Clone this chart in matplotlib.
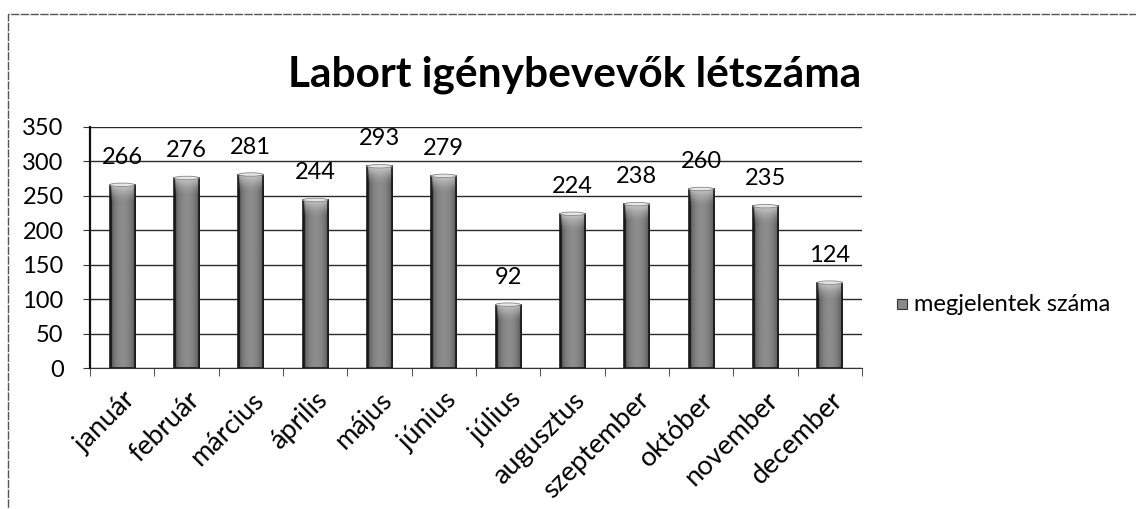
import numpy as np
import matplotlib.pyplot as plt
from matplotlib.patches import Rectangle, Ellipse

plt.rcParams['font.family'] = ['Lato', 'DejaVu Sans']

months = ['január', 'február', 'március', 'április', 'május', 'június',
          'július', 'augusztus', 'szeptember', 'október', 'november', 'december']
values = [266, 276, 281, 244, 293, 279, 92, 224, 238, 260, 235, 124]
yticks = [0, 50, 100, 150, 200, 250, 300, 350]
series_name = 'megjelentek száma'
title = 'Labort igénybevevők létszáma'

fig = plt.figure(figsize=(11.36, 5.09), dpi=100)
ax = fig.add_axes([0.0792, 0.277, 0.6796, 0.4735])

x = np.arange(len(months))
w = 0.39

# horizontal shading for the cylinder look
gx = np.linspace(0, 1, 40)
base = 0.22 + 0.33 * np.sin(np.pi * gx) ** 0.5
base[:3] = 0.08
base[-2:] = 0.15

bars = ax.bar(x, values, width=w, color='none', zorder=3)
for b in bars:
    x0, h = b.get_x(), b.get_height()
    gy = np.linspace(0, h, 120)
    fade = np.clip((gy - (h - 25)) / 25, 0, 1) ** 1.5
    img = base[None, :] + (0.9 - base[None, :]) * 0.7 * fade[:, None]
    ax.imshow(img, cmap='gray', vmin=0, vmax=1, aspect='auto', origin='lower',
              extent=[x0, x0 + w, 0, h], zorder=3, interpolation='bilinear')
    ax.add_patch(Rectangle((x0, 0), w, h, fill=False, ec='#1a1a1a', lw=1.2, zorder=4))
    ax.add_patch(Ellipse((x0 + w / 2, h), w, 5, fc='#e6e6e6', ec='#888888', lw=0.6, zorder=5))

for xi, v in zip(x, values):
    ax.annotate(str(v), (xi, v), xytext=(0, 15), textcoords='offset points',
                ha='center', va='baseline', fontsize=17, zorder=6)

ax.set_xlim(-0.5, len(months) - 0.5)
ax.set_ylim(0, 350)
ax.set_yticks(yticks)
ax.tick_params(axis='y', labelsize=17, length=5, pad=14, color='#333333')
ax.set_xticks(x)
ax.set_xticklabels(months, rotation=45, ha='right', rotation_mode='anchor', fontsize=19.5)
ax.tick_params(axis='x', length=0, pad=14)
ax.set_xticks(np.arange(len(months) + 1) - 0.5, minor=True)
ax.tick_params(axis='x', which='minor', length=6, color='#333333')
ax.grid(axis='y', color='#2a2a2a', lw=1, zorder=0)
for s in ['top', 'right']:
    ax.spines[s].set_visible(False)
ax.spines['left'].set_color('#111111')
ax.spines['bottom'].set_color('#333333')
ax.spines['left'].set_linewidth(1.6)

fig.text(0.506, 0.853, title, ha='center', va='center', fontsize=30.5, fontweight='bold')

# legend
fig.patches.append(Rectangle((0.79, 0.392), 0.008, 0.02, transform=fig.transFigure,
                             fc='#8a8a8a', ec='#333333', lw=0.8))
fig.text(0.805, 0.401, series_name, ha='left', va='center', fontsize=17)

# chart frame
fig.patches.append(Rectangle((0.007, -0.01), 1.0, 0.982, transform=fig.transFigure,
                             fill=False, ec='#555555', lw=1, ls=(0, (6, 1))))

fig.savefig('out.png', dpi=100)
